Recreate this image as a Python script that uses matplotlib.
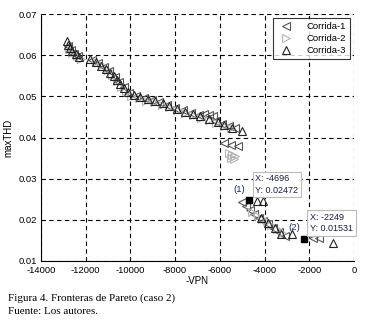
import numpy as np
import matplotlib
matplotlib.use("Agg")
import matplotlib.pyplot as plt

plt.rcParams['font.family'] = ['Liberation Sans', 'DejaVu Sans']

# Corrida-1 (left triangles)
c1_x = [-12800, -12650, -12500, -12350, -11700, -11450, -11200, -10950, -10700, -10500,
        -10300, -10050, -9750, -9400, -9050, -8700, -8350, -8000, -7650, -7300,
        -6950, -6700, -6500, -6300, -6200, -5900, -5600, -5300,
        -5800, -5500, -5200,
        -5000, -4850, -4650, -4450, -4250, -4050, -3850, -3600, -3350, -3100, -1850, -1550]
c1_y = [0.0622, 0.0612, 0.0604, 0.0598, 0.0588, 0.0580, 0.0572, 0.0562, 0.0548, 0.0535,
        0.0522, 0.0508, 0.0501, 0.0497, 0.0492, 0.0486, 0.0480, 0.0473, 0.0466, 0.0460,
        0.0454, 0.0458, 0.0455, 0.0452, 0.0440, 0.0434, 0.0428, 0.0422,
        0.0386, 0.0383, 0.0380,
        0.0242, 0.0233, 0.0224, 0.0214, 0.0205, 0.0198, 0.0190, 0.0180, 0.0170, 0.0160, 0.0155, 0.0155]

# Corrida-2 (right triangles)
c2_x = [-12750, -12600, -12400, -12200, -11550, -11250, -11000, -10800, -10600, -10400,
        -10200, -9950, -9600, -9300, -8950, -8600, -8250, -7900, -7550, -7200,
        -6850, -6500, -6150, -5800, -5500,
        -5600, -5450, -5300, -5500, -5350,
        -4550, -4300, -4100, -3900, -3700, -3450, -3200]
c2_y = [0.0615, 0.0606, 0.0598, 0.0592, 0.0584, 0.0577, 0.0565, 0.0552, 0.0538, 0.0524,
        0.0512, 0.0502, 0.0496, 0.0490, 0.0486, 0.0480, 0.0474, 0.0468, 0.0460, 0.0454,
        0.0448, 0.0442, 0.0435, 0.0428, 0.0422,
        0.0362, 0.0358, 0.0355, 0.0350, 0.0348,
        0.0220, 0.0210, 0.0202, 0.0196, 0.0188, 0.0178, 0.0168]

# Corrida-3 (up triangles)
c3_x = [-12850, -12780, -12700, -12600, -12450, -12300, -11800, -11550, -11300, -11100,
        -10900, -10750, -10600, -10450, -10300, -10100, -9850, -9550, -9200, -8900,
        -8550, -8250, -7900, -7550, -7200, -6900, -6500, -6100, -5800, -5450, -5000,
        -4350, -4080, -4150, -3850, -3550, -3250, -2770, -950]
c3_y = [0.0635, 0.0625, 0.0617, 0.0610, 0.0602, 0.0597, 0.0590, 0.0584, 0.0575, 0.0567,
        0.0558, 0.0549, 0.0540, 0.0530, 0.0520, 0.0510, 0.0503, 0.0499, 0.0494, 0.0490,
        0.0483, 0.0477, 0.0470, 0.0463, 0.0457, 0.0452, 0.0445, 0.0437, 0.0430, 0.0424, 0.0417,
        0.0246, 0.0245, 0.0205, 0.0193, 0.0180, 0.0166, 0.0165, 0.0143]

# selected points (data tips)
tip_x = [-4696, -2249]
tip_y = [0.02472, 0.01531]
tip_tags = ["(1)", "(2)"]

x_ticks = [-14000, -12000, -10000, -8000, -6000, -4000, -2000, 0]
y_ticks = [0.01, 0.02, 0.03, 0.04, 0.05, 0.06, 0.07]

fig = plt.figure(figsize=(3.86, 3.29), dpi=100)
ax = fig.add_axes([0.106, 0.207, 0.811, 0.750])

ms = 5.3
ax.plot(c1_x, c1_y, linestyle="", marker="<", markersize=ms, fillstyle="none",
        markeredgewidth=0.8, color="#555555", label="Corrida-1")
ax.plot(c2_x, c2_y, linestyle="", marker=">", markersize=ms, fillstyle="none",
        markeredgewidth=0.8, color="#b5b5b5", label="Corrida-2")
ax.plot(c3_x, c3_y, linestyle="", marker="^", markersize=ms, fillstyle="none",
        markeredgewidth=0.8, color="#222222", label="Corrida-3")
ax.plot(tip_x, tip_y, linestyle="", marker="s", markersize=4.3, color="black")

for x, y, tag in zip(tip_x, tip_y, tip_tags):
    ax.annotate(f"X: {x}\nY: {y}", xy=(x, y), xytext=(4.6, 4.2), textcoords="offset points",
                ha="left", va="bottom", fontsize=6.5, color="#1c1c3c", linespacing=1.3,
                bbox=dict(boxstyle="square,pad=0.3", facecolor="white", edgecolor="#bbbbbb", linewidth=0.8))
    ax.annotate(tag, xy=(x, y), xytext=(-7, 8), textcoords="offset points",
                ha="center", va="center", fontsize=6.8, color="#1f2a5a")

ax.set_xlim(-14000, 0)
ax.set_ylim(0.01, 0.07)
ax.set_xticks(x_ticks)
ax.set_yticks(y_ticks)
ax.set_xticklabels([str(v) for v in x_ticks])
ax.set_yticklabels([f"{v:.2f}" for v in y_ticks])
ax.tick_params(length=0, labelsize=6.8)
ax.tick_params(axis="x", pad=3.5)
ax.tick_params(axis="y", pad=2.5)
ax.grid(True, color="black", linestyle=(0, (4, 3)), linewidth=0.8)
ax.set_axisbelow(True)
for s in ["top", "right"]:
    ax.spines[s].set_visible(False)
for s in ["left", "bottom"]:
    ax.spines[s].set_linewidth(0.8)

ax.set_xlabel("-VPN", fontsize=7, labelpad=1)
ax.set_ylabel("maxTHD", fontsize=7, labelpad=4)

leg = ax.legend(loc="upper right", bbox_to_anchor=(0.987, 0.984), fontsize=6.8,
                frameon=True, fancybox=False, edgecolor="black", borderpad=0.4,
                handletextpad=1.2, handlelength=2.0, labelspacing=0.35, borderaxespad=0)
leg.get_frame().set_linewidth(0.8)

fig.text(0.021, 0.087, "Figura 4. Fronteras de Pareto (caso 2)", family="Liberation Serif", fontsize=8)
fig.text(0.021, 0.047, "Fuente: Los autores.", family="Liberation Serif", fontsize=8)

fig.savefig("out.png", dpi=100)
